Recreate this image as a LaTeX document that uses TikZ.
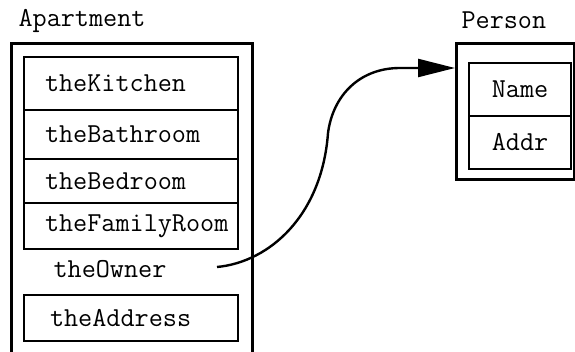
\documentclass[tikz,border=0pt]{standalone}
\usetikzlibrary{positioning,arrows.meta}
\hfuzz=60pt
\begin{document}
\begin{tikzpicture}[x=1pt,y=-1pt,
 font=\ttfamily\fontsize{27.4}{30}\selectfont,
 box/.style={draw,line width=3pt,inner sep=0pt,outer sep=0pt,anchor=north west},
 slot/.style={draw,line width=2.6pt,outer sep=0pt,minimum width=214pt,text width=172pt,inner xsep=21pt,inner ysep=0pt,align=left},
 field/.style={draw,line width=2.6pt,outer sep=0pt,minimum width=102pt,minimum height=53pt,inner sep=0pt},
 ref/.style={line width=2.4pt,-{Triangle[length=37pt,width=18pt]}}]
 \useasboundingbox (0,0) rectangle (575,352);
 \node[box,minimum width=241pt,minimum height=330pt] (apartment) at (11,44) {};
 \node[anchor=base west] (aptlabel) at (15,27) {Apartment};
 \node[slot,minimum height=53pt,anchor=north west] (kitchen) at (24,57) {theKitchen};
 \node[slot,minimum height=49pt,below=0pt of kitchen] (bathroom) {theBathroom};
 \node[slot,minimum height=44pt,below=0pt of bathroom] (bedroom) {theBedroom};
 \node[slot,minimum height=46pt,below=0pt of bedroom] (familyroom) {theFamilyRoom};
 \node[anchor=base west] (owner) at (50,278) {theOwner};
 \node[slot,minimum height=46pt,inner xsep=26pt,text width=162pt,anchor=north west] (address) at (24,295) {theAddress};
 \node[box,minimum width=118pt,minimum height=136pt] (person) at (456,44) {};
 \node[anchor=base west] (personlabel) at (458,29) {Person};
 \node[field,anchor=north west] (name) at (469,63) {Name};
 \node[field,below=0pt of name] (addr) {Addr};
 \coordinate (ownerref) at (217,267);
 \coordinate (personin) at (455,68);
 \draw[ref] (ownerref) .. controls (270,262) and (322,215) .. (328,133) .. controls (333,95) and (360,68) .. (400,68) -- (personin);
\end{tikzpicture}
\end{document}
